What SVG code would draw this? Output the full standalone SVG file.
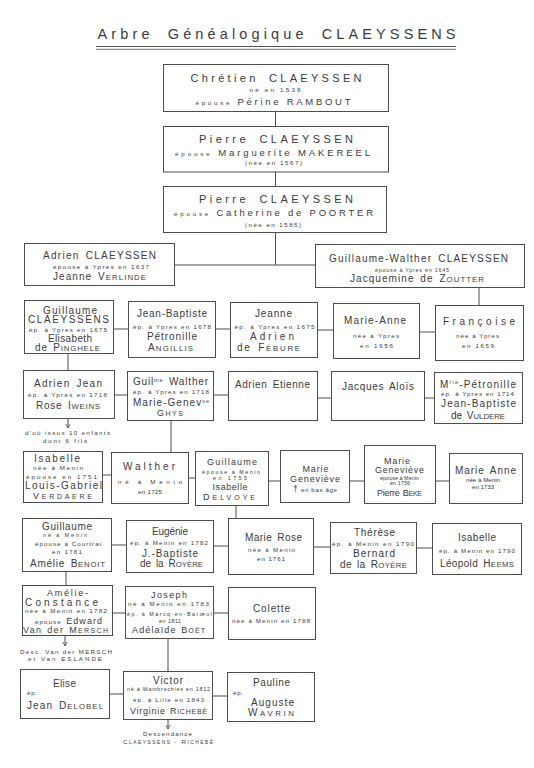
<svg xmlns="http://www.w3.org/2000/svg" width="534" height="768" viewBox="0 0 534 768">
<style>
text{font-family:"Liberation Sans","DejaVu Sans",Arial,sans-serif;fill:#3b3b3b;text-anchor:middle}
.t{font-size:14.5px;word-spacing:6px}
.b{font-size:11px;word-spacing:4px}
.n{font-size:10px;word-spacing:2px}
.k{font-size:9px;word-spacing:1px}
.m{font-size:9.5px}
.s{font-size:6.2px}
.x{font-size:5.4px}
.l{text-anchor:start}
.sc{font-size:78%}
.sup{font-size:55%}
.bx{fill:none;stroke:#4d4d4d;stroke-width:1}
#connectors line{stroke:#4d4d4d;stroke-width:1;fill:none}
.ar{marker-end:url(#ah)}
.ul{stroke:#555;fill:none}
</style>
<defs>
<marker id="ah" markerWidth="6" markerHeight="6" refX="4.5" refY="3" orient="auto" markerUnits="userSpaceOnUse">
<path d="M0.5,0.8 L4.5,3 L0.5,5.2" fill="none" stroke="#4d4d4d" stroke-width="0.8"/>
</marker>
</defs>
<rect x="0" y="0" width="534" height="768" fill="#ffffff"/>

<g id="title">
<text class="t" x="276.5" y="38.5" textLength="358" lengthAdjust="spacing">Arbre Généalogique CLAEYSSENS</text>
<line class="ul" x1="96" y1="46.5" x2="456" y2="46.5" stroke-width="1"/>
<line class="ul" x1="96" y1="49.3" x2="456" y2="49.3" stroke-width="0.8"/>
</g>

<g id="connectors">
<line x1="275.5" y1="112" x2="275.5" y2="126"/>
<line x1="275.5" y1="172" x2="275.5" y2="186"/>
<line x1="275.5" y1="232" x2="275.5" y2="265"/>
<line x1="174.5" y1="265" x2="315.5" y2="265"/>
<line x1="479" y1="288" x2="479" y2="305.5"/>
<line x1="113.5" y1="329" x2="128.5" y2="329"/>
<line x1="215.5" y1="329" x2="230.5" y2="329"/>
<line x1="317.5" y1="330" x2="333.5" y2="330"/>
<line x1="419.5" y1="332" x2="435.5" y2="332"/>
<line x1="68" y1="353.5" x2="68" y2="370.5"/>
<line x1="114.5" y1="395" x2="127.5" y2="395"/>
<line x1="213.5" y1="395" x2="228.5" y2="395"/>
<line x1="317.5" y1="398" x2="331.5" y2="398"/>
<line x1="424.5" y1="398" x2="434.5" y2="398"/>
<line class="ar" x1="68" y1="418.5" x2="68" y2="428"/>
<line x1="171" y1="420.5" x2="171" y2="452.5"/>
<line x1="102.5" y1="475" x2="111.5" y2="475"/>
<line x1="188.5" y1="478" x2="195.5" y2="478"/>
<line x1="268.5" y1="481" x2="280.5" y2="481"/>
<line x1="349.5" y1="481" x2="364.5" y2="481"/>
<line x1="435.5" y1="481" x2="449.5" y2="481"/>
<line x1="236" y1="505.5" x2="236" y2="518.5"/>
<line x1="111.5" y1="545" x2="126.5" y2="545"/>
<line x1="213.5" y1="546" x2="228.5" y2="546"/>
<line x1="313.5" y1="547" x2="330.5" y2="547"/>
<line x1="416.5" y1="548" x2="432.5" y2="548"/>
<line x1="66" y1="571.5" x2="66" y2="585.5"/>
<line x1="112.5" y1="613" x2="125.5" y2="613"/>
<line x1="213.5" y1="613" x2="228.5" y2="613"/>
<line class="ar" x1="65" y1="635.5" x2="65" y2="646"/>
<line x1="168" y1="638.5" x2="168" y2="671.5"/>
<line x1="109.5" y1="694" x2="123.5" y2="694"/>
<line x1="212.5" y1="696" x2="227.5" y2="696"/>
<line class="ar" x1="168" y1="719.5" x2="168" y2="729"/>
</g>

<g id="n-chretien">
<rect class="bx" x="163.5" y="64.5" width="225" height="47"/>
<text class="b" x="276" y="82" textLength="171">Chrétien CLAEYSSEN</text>
<text class="s" x="275" y="91.5" textLength="51">né en 1538</text>
<text class="m" x="273" y="104.5" textLength="155"><tspan class="s">épouse</tspan> Périne RAMBOUT</text>
</g>

<g id="n-pierre1">
<rect class="bx" x="163.5" y="126.5" width="225" height="45.5"/>
<text class="b" x="276" y="142.5" textLength="154">Pierre CLAEYSSEN</text>
<text class="m" x="272.5" y="155.5" textLength="195"><tspan class="s">épouse</tspan> Marguerite MAKEREEL</text>
<text class="s" x="273.5" y="165" textLength="57">(née en 1567)</text>
</g>

<g id="n-pierre2">
<rect class="bx" x="163.5" y="186.5" width="223" height="46"/>
<text class="b" x="276" y="202.5" textLength="154">Pierre CLAEYSSEN</text>
<text class="m" x="273.5" y="216" textLength="199"><tspan class="s">épouse</tspan> Catherine de POORTER</text>
<text class="s" x="273" y="226.5" textLength="56">(née en 1585)</text>
</g>

<g id="n-adrien">
<rect class="bx" x="24.5" y="243.5" width="150" height="42"/>
<text class="n" x="99.5" y="258.5" textLength="113">Adrien CLAEYSSEN</text>
<text class="s" x="101" y="268.5" textLength="96">épouse à Ypres en 1637</text>
<text class="n" x="99.5" y="279.5" textLength="93">Jeanne V<tspan class="sc">ERLINDE</tspan></text>
</g>

<g id="n-guillaume-walther">
<rect class="bx" x="315.5" y="244.5" width="209" height="43"/>
<text class="n" x="418.5" y="261.5" textLength="179">Guillaume-Walther CLAEYSSEN</text>
<text class="x" x="412" y="271.5" textLength="74">épouse à Ypres en 1645</text>
<text class="n" x="417" y="282" textLength="134">Jacquemine de Z<tspan class="sc">OUTTER</tspan></text>
</g>

<g id="n-guillaume-claeyssens">
<rect class="bx" x="24.5" y="300.5" width="89" height="53"/>
<text class="n" x="70" y="313.5" textLength="54">Guillaume</text>
<text class="n" x="68.5" y="323" textLength="81">CLAEYSSENS</text>
<text class="s" x="68" y="331.5" textLength="78">ép. à Ypres en 1675</text>
<text class="n" x="70" y="342" textLength="44">Elisabeth</text>
<text class="n" x="67.5" y="351" textLength="65">de P<tspan class="sc">INGHELE</tspan></text>
</g>

<g id="n-jean-baptiste">
<rect class="bx" x="128.5" y="301.5" width="87" height="56"/>
<text class="n" x="172" y="316.5" textLength="70">Jean-Baptiste</text>
<text class="s" x="172" y="328.5" textLength="78">ép. à Ypres en 1678</text>
<text class="n" x="172" y="340" textLength="50">Pétronille</text>
<text class="n" x="170.5" y="350.5" textLength="45">A<tspan class="sc">NGILLIS</tspan></text>
</g>

<g id="n-jeanne">
<rect class="bx" x="230.5" y="302.5" width="87" height="55"/>
<text class="n" x="273.5" y="316.5" textLength="37">Jeanne</text>
<text class="s" x="274.5" y="328.5" textLength="80">ép. à Ypres en 1675</text>
<text class="n" x="272" y="340" textLength="44">Adrien</text>
<text class="n" x="268.5" y="350.5" textLength="63">de F<tspan class="sc">ÉBURE</tspan></text>
</g>

<g id="n-marie-anne">
<rect class="bx" x="333.5" y="303.5" width="86" height="55"/>
<text class="n" x="375" y="324" textLength="62">Marie-Anne</text>
<text class="s" x="376" y="338" textLength="46">née à Ypres</text>
<text class="s" x="376.5" y="347.5" textLength="33">en 1656</text>
</g>

<g id="n-francoise">
<rect class="bx" x="435.5" y="305.5" width="88" height="55"/>
<text class="n" x="479" y="325" textLength="72">Françoise</text>
<text class="s" x="477.5" y="338" textLength="43">née à Ypres</text>
<text class="s" x="478" y="347.5" textLength="32">en 1659</text>
</g>

<g id="n-adrien-jean">
<rect class="bx" x="23.5" y="370.5" width="91" height="48"/>
<text class="n" x="68" y="386.5" textLength="68">Adrien Jean</text>
<text class="s" x="67.5" y="396.5" textLength="79">ép. à Ypres en 1718</text>
<text class="n" x="68" y="409" textLength="64">Rose I<tspan class="sc">WEINS</tspan></text>
</g>

<g id="n-guilme-walther">
<rect class="bx" x="127.5" y="371.5" width="86" height="49"/>
<text class="n" x="170.5" y="385" textLength="75">Guil<tspan class="sup" dy="-3.5">me</tspan><tspan dy="3.5"> Walther</tspan></text>
<text class="s" x="171" y="394" textLength="76">ép. à Ypres en 1718</text>
<text class="n" x="171" y="406" textLength="76">Marie-Genev<tspan class="sup" dy="-3.5">ve</tspan></text>
<text class="k" x="170" y="415.5" textLength="26">G<tspan class="sc">HŸS</tspan></text>
</g>

<g id="n-adrien-etienne">
<rect class="bx" x="228.5" y="371.5" width="89" height="49"/>
<text class="n" x="272.5" y="388" textLength="75">Adrien Etienne</text>
</g>

<g id="n-jacques-alois">
<rect class="bx" x="331.5" y="371.5" width="93" height="49"/>
<text class="n" x="378" y="390" textLength="72">Jacques Aloïs</text>
</g>

<g id="n-marie-petronille">
<rect class="bx" x="434.5" y="372.5" width="88" height="51"/>
<text class="n" x="478" y="387.5" textLength="76">M<tspan class="sup" dy="-3.5">rie</tspan><tspan dy="3.5">-Pétronille</tspan></text>
<text class="s" x="477.5" y="396" textLength="73">ép. à Ypres en 1714</text>
<text class="n" x="478.5" y="407" textLength="75">Jean-Baptiste</text>
<text class="n" x="478" y="419" textLength="54">de V<tspan class="sc">ULDERE</tspan></text>
</g>

<g id="note-adrien-jean">
<text class="s" x="67.5" y="434.5" textLength="85">d'où issus 10 enfants</text>
<text class="s" x="65" y="443" textLength="44">dont 6 fils</text>
</g>

<g id="n-isabelle">
<rect class="bx" x="23.5" y="451.5" width="79" height="51"/>
<text class="n" x="57" y="461.5" textLength="46">Isabelle</text>
<text class="s" x="58" y="470" textLength="50">née à Menin</text>
<text class="s" x="61.5" y="478.5" textLength="71">épouse en 1751</text>
<text class="n" x="63.5" y="489" textLength="77">Louis-Gabriel</text>
<text class="k" x="62.5" y="499" textLength="59">V<tspan class="sc">ERDAERE</tspan></text>
</g>

<g id="n-walther">
<rect class="bx" x="111.5" y="452.5" width="77" height="51"/>
<text class="n" x="149" y="470" textLength="52">Walther</text>
<text class="s" x="150" y="484" textLength="64">né à Menin</text>
<text class="s" x="150" y="494" textLength="24">en 1725</text>
</g>

<g id="n-guillaume-1755">
<rect class="bx" x="195.5" y="451.5" width="73" height="54"/>
<text class="k" x="232" y="464.5" textLength="50">Guillaume</text>
<text class="x" x="231" y="473.5" textLength="58">épouse à Menin</text>
<text class="x" x="230" y="480" textLength="34">en 1755</text>
<text class="k" x="230" y="490" textLength="35">Isabelle</text>
<text class="k" x="229" y="500" textLength="52">D<tspan class="sc">ELVOŸE</tspan></text>
</g>

<g id="n-marie-genevieve-1">
<rect class="bx" x="280.5" y="450.5" width="69" height="52"/>
<text class="k" x="315.5" y="471.5" textLength="26">Marie</text>
<text class="k" x="315" y="481.5" textLength="50">Geneviève</text>
<text class="s" x="315" y="491.5" textLength="44"><tspan font-size="9">†</tspan> en bas âge</text>
</g>

<g id="n-marie-genevieve-2">
<rect class="bx" x="364.5" y="445.5" width="71" height="58"/>
<text class="k" x="397" y="463.5" textLength="26">Marie</text>
<text class="k" x="399.5" y="472.5" textLength="49">Geneviève</text>
<text class="x" x="399.5" y="479.5" textLength="39">épouse à Menin</text>
<text class="x" x="400" y="485" textLength="20">en 1756</text>
<text class="k" x="399.5" y="495.5" textLength="45">Pierre B<tspan class="sc">EKE</tspan></text>
</g>

<g id="n-marie-anne-1733">
<rect class="bx" x="449.5" y="453.5" width="73" height="50"/>
<text class="n" x="485.5" y="473.5" textLength="61">Marie Anne</text>
<text class="s" x="483" y="481.5" textLength="34">née à Menin</text>
<text class="s" x="483" y="488.5" textLength="22">en 1733</text>
</g>

<g id="n-guillaume-1781">
<rect class="bx" x="22.5" y="518.5" width="89" height="53"/>
<text class="n" x="67" y="530" textLength="50">Guillaume</text>
<text class="x" x="65" y="537" textLength="44">né à Menin</text>
<text class="s" x="68" y="546" textLength="66">épouse à Courtrai</text>
<text class="s" x="67" y="553.5" textLength="30">en 1781</text>
<text class="n" x="67.5" y="567" textLength="75">Amélie B<tspan class="sc">ENOIT</tspan></text>
</g>

<g id="n-eugenie">
<rect class="bx" x="126.5" y="520.5" width="87" height="52"/>
<text class="n" x="170" y="534.5" textLength="36">Eugénie</text>
<text class="s" x="169" y="545" textLength="78">ép. à Menin en 1782</text>
<text class="n" x="170" y="557" textLength="56">J.-Baptiste</text>
<text class="n" x="171.5" y="566.5" textLength="63">de la R<tspan class="sc">OYÈRE</tspan></text>
</g>

<g id="n-marie-rose">
<rect class="bx" x="228.5" y="518.5" width="85" height="56"/>
<text class="n" x="273.5" y="541" textLength="57">Marie Rose</text>
<text class="s" x="271.5" y="552" textLength="47">née à Menin</text>
<text class="s" x="271" y="560.5" textLength="28">en 1761</text>
</g>

<g id="n-therese">
<rect class="bx" x="330.5" y="522.5" width="86" height="51"/>
<text class="n" x="374.5" y="535.5" textLength="41">Thérèse</text>
<text class="s" x="373" y="545.5" textLength="82">ép. à Menin en 1790</text>
<text class="n" x="374" y="557" textLength="42">Bernard</text>
<text class="n" x="373.5" y="567.5" textLength="67">de la R<tspan class="sc">OYÈRE</tspan></text>
</g>

<g id="n-isabelle-heems">
<rect class="bx" x="432.5" y="523.5" width="89" height="51"/>
<text class="n" x="477" y="540.5" textLength="38">Isabelle</text>
<text class="s" x="477" y="552.5" textLength="76">ép. à Menin en 1790</text>
<text class="n" x="477" y="566.5" textLength="74">Léopold H<tspan class="sc">EEMS</tspan></text>
</g>

<g id="n-amelie-constance">
<rect class="bx" x="22.5" y="585.5" width="90" height="50"/>
<text class="k" x="67.5" y="595.5" textLength="41">Amélie-</text>
<text class="n" x="61.5" y="606" textLength="73">Constance</text>
<text class="s" x="66" y="613" textLength="82">née à Menin en 1782</text>
<text class="k" x="68.5" y="624" textLength="67"><tspan class="s">épouse</tspan> Edward</text>
<text class="k" x="65.5" y="632.5" textLength="85">Van der M<tspan class="sc">ERSCH</tspan></text>
</g>

<g id="n-joseph">
<rect class="bx" x="125.5" y="586.5" width="88" height="52"/>
<text class="k" x="169" y="597.5" textLength="36">Joseph</text>
<text class="s" x="168.5" y="605.5" textLength="81">né à Menin en 1783</text>
<text class="x" x="169.5" y="616" textLength="85">ép. à Marcq-en-Barœul</text>
<text class="x" x="170" y="622.5" textLength="22">en 1811</text>
<text class="k" x="168.5" y="633" textLength="73">Adélaïde B<tspan class="sc">OËT</tspan></text>
</g>

<g id="n-colette">
<rect class="bx" x="228.5" y="587.5" width="87" height="52"/>
<text class="n" x="271.5" y="612" textLength="37">Colette</text>
<text class="s" x="271" y="623" textLength="78">née à Menin en 1788</text>
</g>

<g id="note-amelie">
<text class="s" x="66" y="653.5" textLength="92">Desc. Van der MERSCH</text>
<text class="s" x="65" y="660.5" textLength="74">et Van ESLANDE</text>
</g>

<g id="n-elise">
<rect class="bx" x="20.5" y="669.5" width="89" height="49"/>
<text class="n" x="64.5" y="686.5" textLength="23">Elise</text>
<text class="s l" x="27" y="695" textLength="10">ép.</text>
<text class="n" x="65" y="709" textLength="76">Jean D<tspan class="sc">ELOBEL</tspan></text>
</g>

<g id="n-victor">
<rect class="bx" x="123.5" y="671.5" width="89" height="48"/>
<text class="n" x="168" y="683.5" textLength="30">Victor</text>
<text class="x" x="168.5" y="691" textLength="83">né à Wambrechies en 1812</text>
<text class="s" x="168.5" y="702" textLength="71">ép. à Lille en 1843</text>
<text class="k" x="168.5" y="714" textLength="77">Virginie R<tspan class="sc">ICHEBÉ</tspan></text>
</g>

<g id="n-pauline">
<rect class="bx" x="227.5" y="672.5" width="87" height="49"/>
<text class="n" x="271.5" y="686" textLength="37">Pauline</text>
<text class="s l" x="233" y="695" textLength="10">ép.</text>
<text class="n" x="272.5" y="706" textLength="43">Auguste</text>
<text class="n" x="271" y="716" textLength="46">W<tspan class="sc">AVRIN</tspan></text>
</g>

<g id="note-victor">
<text class="s" x="167.5" y="736" textLength="49">Descendance</text>
<text class="s" x="168" y="743.5" textLength="90">C<tspan class="sc">LAEYSSENS</tspan> - R<tspan class="sc">ICHEBÉ</tspan></text>
</g>
</svg>
